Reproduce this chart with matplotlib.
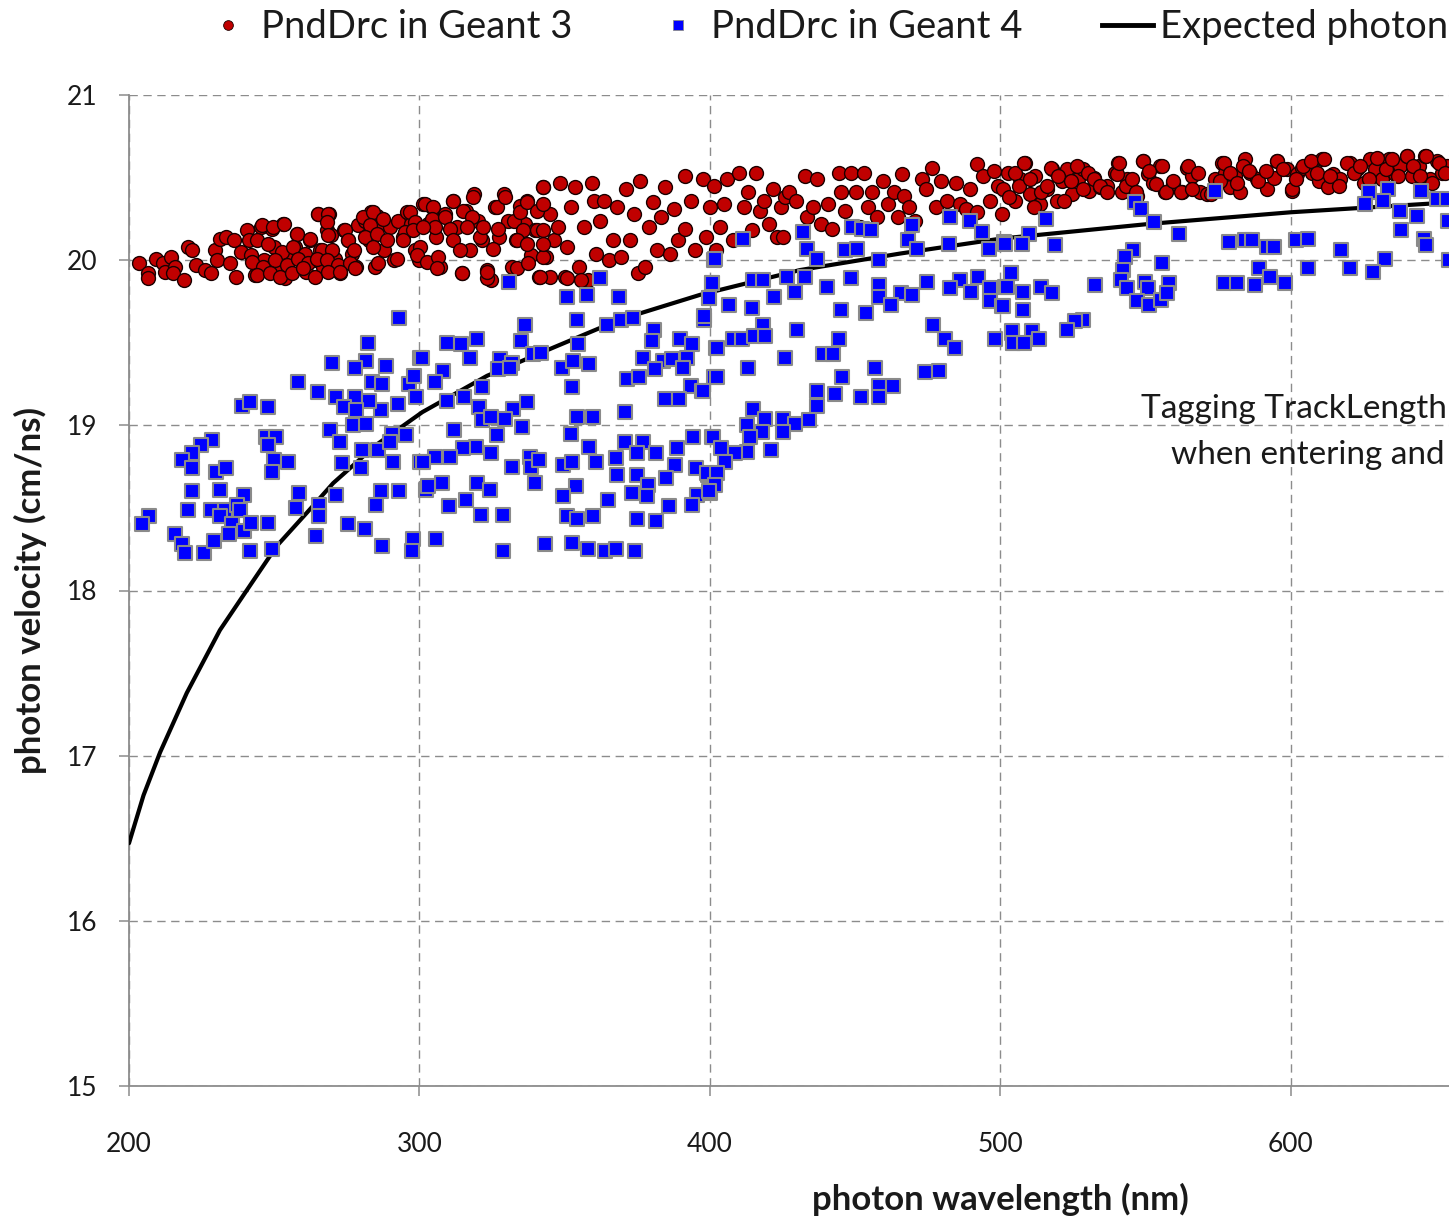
import numpy as np
import matplotlib
matplotlib.use("Agg")
import matplotlib.pyplot as plt
from matplotlib.lines import Line2D

# ---------------- data ----------------
# Expected photon velocity curve
curve_x = [200, 205, 210.7, 219.9, 231.3, 240.5, 250.9, 261.2, 270.3, 285, 301,
           323.3, 346, 369, 396.6, 431, 465.5, 500, 551.6, 600, 655]
curve_y = [16.47, 16.76, 17.02, 17.38, 17.76, 18.0, 18.27, 18.47, 18.65, 18.88, 19.08,
           19.30, 19.47, 19.64, 19.79, 19.94, 20.04, 20.13, 20.22, 20.29, 20.35]

# PndDrc in Geant 3 (red circles)
g3_x = [203.6, 206.5, 206.5, 209.4, 211.6, 212.3, 214.5, 215.9, 215.2, 218.8, 220.3, 221.7,
        223.2, 226.1, 228.3, 229.7, 230.4, 231.2, 233.3, 234.8, 236.2, 236.9, 238.4, 240.6,
        241.3, 242.0, 243.5, 245.6, 246.4, 247.8, 249.3, 250.0, 251.4, 252.9, 253.6, 255.8,
        257.2, 258.0, 259.4, 260.9, 262.3, 263.8, 265.2, 265.9, 266.7, 268.8, 268.1, 269.6,
        271.0, 272.5, 273.9, 275.3, 276.8, 278.2, 279.0, 281.1, 282.6, 283.3, 284.8, 285.5,
        286.9, 287.7, 289.8, 291.3, 292.7, 294.2, 295.6, 297.1, 298.5, 300.0,
        301.4, 302.9, 304.3, 305.8, 307.2, 308.7, 311.6, 313.0, 314.5, 315.9, 317.4, 318.8,
        320.3, 321.7, 323.2, 324.6, 326.1, 327.5, 329.0, 330.4, 331.9, 333.3, 334.8, 336.2,
        336.9, 338.4, 339.8, 341.3, 342.7, 343.5, 344.9, 346.3, 347.8, 348.5, 350.0, 350.7,
        352.1, 353.6, 355.0, 356.5, 357.9, 359.4, 360.1, 360.8, 362.3, 363.7, 365.2, 366.6,
        368.1, 369.5, 371.0, 372.4, 373.9, 375.3, 376.1, 377.5, 379.0, 380.4, 381.9, 383.3,
        384.7, 386.2, 387.6, 389.1, 391.3, 391.3, 393.4, 394.9, 397.8, 398.5, 400.0,
        401.4, 402.1, 403.6, 405.0, 405.8, 407.9, 410.1, 411.6, 413.0, 414.5, 415.9, 417.4,
        418.8, 420.2, 421.7, 423.1, 424.6, 426.0,
        323.2, 344.9, 350.7, 355.8,
        425.2, 427.4, 429.6, 432.6, 433.3, 435.5, 437.0, 438.4, 440.6, 442.1, 444.3, 445.0,
        446.5, 448.7, 450.2, 451.6, 453.1, 454.6, 456.0, 457.5, 459.7, 461.2, 463.3, 464.8,
        466.3, 467.0, 468.5, 470.7, 472.9, 474.3, 476.5, 478.0, 479.5, 481.7, 484.6, 486.1,
        488.3, 489.7, 491.9, 491.9, 494.1, 496.3, 497.8, 499.3,
        501.1, 502.8, 505.1, 506.8, 508.5, 510.3, 512.0, 513.7, 516.0, 517.7, 519.4, 521.2,
        522.9, 524.6, 526.9, 528.6, 530.4, 532.1, 534.4, 536.7, 539.5, 540.7, 541.8, 543.6,
        547.0, 549.3, 551.0, 552.7, 555.0, 556.8, 559.6, 562.5, 564.2, 565.9, 568.8, 571.1,
        574.0, 576.3, 577.4, 579.1, 580.9, 582.6, 584.3, 586.0, 588.3, 591.8, 594.1, 595.2,
        598.7, 600.4, 602.1, 603.8, 607.3, 609.6, 610.7, 613.0, 614.7, 617.0, 620.5, 622.8,
        625.1, 627.3, 629.1, 631.4, 633.7, 636.0, 637.7, 640.0, 641.7, 644.0, 646.3, 648.0,
        650.3, 652.0, 653.8,
        500.7, 502.9, 505.1, 506.6, 508.1, 510.3, 511.7, 513.9, 516.1, 517.6, 519.8, 522.0,
        524.2, 526.4, 528.6, 530.1, 532.3, 534.5, 536.6, 540.3, 541.0, 543.2, 545.4, 546.9,
        549.1, 551.3, 553.5, 555.7, 557.2, 559.4, 562.3, 564.5, 566.0, 568.2, 572.6, 575.5,
        577.0, 579.2, 581.4, 583.6, 585.8, 588.7, 591.6, 595.3, 597.5, 600.4, 601.9, 604.1,
        607.0, 609.2, 611.4, 613.6, 616.5, 619.5, 621.7, 623.9, 626.8, 629.7, 632.7, 634.9,
        637.1, 640.0, 642.2, 644.4, 646.6, 648.8, 651.0, 653.2,
        245.7, 249.7, 253.2, 257.7, 262.3, 244.0, 248.0, 252.6, 256.6, 260.6, 266.4, 269.8,
        242.2, 246.3, 250.3, 254.3, 258.3, 261.8, 264.6, 268.1, 272.1, 276.1, 244.0, 248.6,
        252.0, 256.0, 260.0, 264.1, 268.6, 272.7, 265.2, 268.6, 268.1, 268.6, 274.4, 275.5,
        277.3, 277.8, 280.7, 284.1, 283.0, 281.3, 285.3, 287.6, 284.1, 285.9, 288.7, 292.2,
        296.8, 298.5, 295.1, 294.5, 297.9, 300.2, 301.9, 304.8, 304.2, 305.4, 301.4, 299.1,
        302.5, 306.5, 306.0, 308.8, 311.7, 310.5, 311.7, 314.0, 315.1, 318.0, 318.6, 316.3,
        320.9, 322.0, 326.6, 325.5, 327.2, 329.5, 332.4, 334.7, 337.0, 340.4, 342.7, 342.7,
        335.8, 340.4, 333.5, 342.7, 337.0, 314.6, 323.2, 333.5, 337.5, 342.7, 341.5, 342.7]
g3_y = [19.98, 19.92, 19.89, 20.01, 19.98, 19.93, 20.02, 19.96, 19.92, 19.88, 20.08, 20.06,
        19.97, 19.94, 19.92, 20.06, 20.00, 20.13, 20.14, 19.98, 20.12, 19.90, 20.05, 20.18,
        20.12, 20.03, 19.91, 20.20, 20.00, 19.95, 20.19, 20.08, 19.96, 20.22, 19.89, 20.04,
        20.08, 20.16, 19.99, 19.93, 20.12, 20.00, 20.28, 20.06, 19.96, 20.28, 20.18, 20.15,
        20.01, 19.92, 20.18, 20.12, 20.04, 19.96, 20.21, 20.24, 20.12, 20.29, 19.96, 20.27,
        20.22, 20.06, 20.20, 20.00, 20.24, 20.14, 20.29, 20.22, 20.06, 20.00,
        20.34, 20.22, 20.32, 20.14, 19.96, 20.28, 20.36, 20.20, 19.92, 20.30, 20.06, 20.40,
        20.24, 20.12, 19.94, 19.88, 20.32, 20.14, 20.40, 20.24, 19.96, 20.12, 20.33, 20.22,
        20.36, 20.03, 20.18, 19.90, 20.44, 20.02, 20.28, 20.12, 20.20, 20.47, 19.90, 20.08,
        20.32, 20.44, 19.96, 20.20, 19.88, 20.47, 20.36, 20.04, 20.24, 20.36, 20.00, 20.12,
        20.32, 20.02, 20.43, 20.12, 20.28, 19.92, 20.48, 19.96, 20.20, 20.35, 20.06, 20.26,
        20.44, 20.04, 20.31, 20.12, 20.51, 20.19, 20.36, 20.06, 20.49, 20.14, 20.32,
        20.45, 20.06, 20.20, 20.34, 20.49, 20.12, 20.53, 20.32, 20.41, 20.18, 20.53, 20.30,
        20.36, 20.22, 20.43, 20.14, 20.32, 20.38,
        19.89, 19.90, 19.89, 19.88,
        20.14, 20.41, 20.36, 20.51, 20.26, 20.32, 20.49, 20.22, 20.34, 20.19, 20.53, 20.41,
        20.30, 20.53, 20.41, 20.20, 20.53, 20.32, 20.41, 20.26, 20.48, 20.34, 20.41, 20.26,
        20.52, 20.39, 20.32, 20.24, 20.49, 20.43, 20.56, 20.32, 20.48, 20.36, 20.47, 20.34,
        20.31, 20.43, 20.58, 20.29, 20.51, 20.36, 20.54, 20.45,
        20.43, 20.53, 20.36, 20.49, 20.59, 20.40, 20.51, 20.34, 20.43, 20.55, 20.36, 20.48,
        20.55, 20.40, 20.49, 20.55, 20.42, 20.50, 20.44, 20.45, 20.53, 20.59, 20.41, 20.49,
        20.39, 20.60, 20.52, 20.47, 20.57, 20.41, 20.47, 20.41, 20.56, 20.51, 20.41, 20.40,
        20.49, 20.59, 20.53, 20.44, 20.51, 20.41, 20.61, 20.53, 20.49, 20.43, 20.50, 20.60,
        20.55, 20.42, 20.52, 20.56, 20.53, 20.48, 20.61, 20.44, 20.52, 20.49, 20.59, 20.55,
        20.47, 20.61, 20.55, 20.49, 20.61, 20.52, 20.57, 20.63, 20.51, 20.57, 20.63, 20.49,
        20.60, 20.53, 20.57,
        20.28, 20.38, 20.53, 20.45, 20.59, 20.49, 20.32, 20.41, 20.45, 20.56, 20.51, 20.36,
        20.48, 20.57, 20.43, 20.53, 20.49, 20.45, 20.41, 20.52, 20.59, 20.45, 20.49, 20.41,
        20.60, 20.54, 20.46, 20.57, 20.41, 20.48, 20.41, 20.57, 20.43, 20.53, 20.40, 20.48,
        20.59, 20.53, 20.47, 20.57, 20.54, 20.48, 20.54, 20.60, 20.55, 20.43, 20.49, 20.57,
        20.60, 20.53, 20.61, 20.51, 20.45, 20.59, 20.53, 20.57, 20.49, 20.62, 20.55, 20.61,
        20.51, 20.63, 20.57, 20.51, 20.63, 20.47, 20.59, 20.53,
        20.21, 20.20, 20.22, 20.16, 20.13, 20.12, 20.10, 20.05, 20.08, 20.04, 20.06, 20.06,
        19.99, 19.96, 20.00, 19.97, 20.01, 19.98, 20.01, 20.00, 19.97, 19.98, 19.91, 19.92,
        19.90, 19.92, 19.95, 19.90, 19.93, 19.93, 20.28, 20.28, 20.23, 20.15, 20.18, 20.12,
        20.06, 19.95, 20.26, 20.29, 20.21, 20.14, 20.16, 20.25, 20.08, 19.98, 20.12, 20.01,
        20.29, 20.23, 20.17, 20.12, 20.18, 20.08, 20.34, 20.32, 20.25, 20.20, 20.20, 20.03,
        19.99, 20.02, 19.95, 20.26, 20.36, 20.19, 20.12, 20.06, 20.30, 20.26, 20.38, 20.20,
        20.14, 20.20, 20.32, 20.07, 20.19, 20.38, 20.24, 20.29, 20.35, 20.30, 20.44, 20.34,
        20.18, 20.18, 20.12, 20.18, 20.10, 19.92, 19.93, 19.95, 19.98, 20.02, 19.90, 20.10]

# PndDrc in Geant 4 (blue squares)
g4_x = [293.0, 282.3, 270.0, 281.6, 277.8, 288.5, 300.2, 258.2, 265.0, 283.7, 287.0, 296.4,
        298.0, 271.3, 277.8, 274.0, 286.8, 292.6, 298.8, 282.6, 278.2, 277.1, 281.6, 238.9,
        241.6, 247.9, 269.2, 272.7, 228.6, 224.8, 221.7, 218.3, 221.7, 230.0, 233.5, 247.2,
        250.6, 248.0, 249.9, 254.8, 249.2, 280.2, 285.7, 290.6, 295.4, 289.9, 273.3, 280.0,
        290.9, 300.2, 221.7, 231.3, 239.6, 220.3, 228.2, 233.1, 237.2, 238.2, 258.5, 257.5,
        265.4, 265.4, 271.3, 286.8, 293.0, 285.0, 206.9, 204.5, 215.8, 218.3, 219.3, 225.8,
        229.3, 231.3, 235.5, 234.4, 239.6, 242.0, 247.9, 241.7, 249.2, 264.4, 275.4, 281.3,
        287.1, 297.8, 297.5, 302.3,
        401.4, 330.9, 362.2, 350.8, 357.7, 368.7, 400.8, 399.7, 398.0, 336.4, 354.2, 364.6,
        369.4, 373.6, 380.8, 335.0, 309.5, 314.3, 319.8, 317.4, 354.6, 380.1, 389.7, 393.9,
        402.1, 300.9, 327.8, 332.0, 339.1, 341.9, 349.1, 352.9, 358.4, 377.0, 383.9, 387.0,
        392.2, 327.1, 331.2, 308.1, 305.4, 371.5, 375.6, 381.1, 390.8, 401.4, 321.6, 352.5,
        393.5, 397.3, 309.5, 315.3, 384.6, 389.4, 320.5, 337.0, 332.2, 321.6, 324.7, 329.5,
        335.3, 354.3, 359.8, 370.8, 311.9, 326.7, 352.2, 394.2, 400.8, 319.5, 315.0, 324.7,
        305.4, 310.6, 358.4, 370.8, 377.0, 374.9, 381.4, 388.7, 338.0, 301.2, 332.0, 338.4,
        341.2, 349.5, 352.5, 360.8, 367.7, 388.0, 395.3, 368.0, 374.9, 384.9, 399.4, 307.8,
        303.0, 319.8, 324.4, 339.8, 353.9, 378.7, 373.2, 395.6, 400.1, 310.2, 316.0, 349.5,
        364.9, 378.3, 385.9, 393.8, 321.2, 328.8, 350.8, 354.3, 359.8, 374.9, 381.4, 305.7,
        343.3, 328.8, 352.5, 358.0, 363.9, 367.7, 374.2,
        411.4, 432.1, 449.0, 452.4, 455.5, 469.6, 468.3, 482.8, 489.6, 493.8, 433.5, 436.9,
        446.5, 450.6, 471.3, 482.4, 496.1, 501.3, 401.8, 458.3, 400.8, 414.9, 418.3, 426.6,
        432.8, 440.4, 448.6, 458.3, 474.8, 486.2, 492.4, 503.7, 399.7, 422.1, 429.3, 458.3,
        465.9, 469.6, 482.7, 489.9, 496.5, 501.6, 398.0, 406.6, 414.5, 445.2, 453.8, 462.4,
        496.5, 500.6, 418.3, 430.0, 476.9, 402.5, 408.0, 411.1, 415.2, 419.0, 444.5, 481.0,
        484.4, 498.2, 504.0, 504.4, 425.9, 439.0, 442.5, 413.2, 402.5, 445.5, 456.9, 474.1,
        478.9, 397.7, 436.9, 443.1, 452.1, 458.3, 463.1, 458.3, 436.9, 414.9, 412.8, 419.0,
        425.2, 429.3, 434.1, 418.0, 425.2, 413.8, 401.1, 421.0, 412.8, 403.9, 408.7, 405.2,
        399.0, 402.5, 401.8, 399.7,
        574.0, 546.4, 548.5, 515.8, 509.9, 553.0, 561.6, 501.6, 507.5, 518.9, 627.0, 633.5,
        644.9, 625.6, 631.8, 650.4, 653.8, 637.6, 643.4, 654.2, 638.0, 645.9, 646.6, 654.5,
        578.8, 584.3, 586.7, 591.9, 594.3, 601.9, 606.0, 617.4, 632.5, 620.4, 628.4, 606.0,
        589.1, 592.9, 577.1, 581.6, 587.7, 598.0, 545.7, 543.0, 555.7, 542.3, 541.6, 549.9,
        558.1, 543.7, 550.9, 547.1, 551.2, 555.4, 557.4, 532.6, 503.7, 502.3, 507.8, 514.0,
        517.8, 500.9, 507.8, 528.5, 525.7, 523.0, 504.0, 510.9, 504.4, 508.2, 513.4]
g4_y = [19.65, 19.50, 19.38, 19.39, 19.35, 19.36, 19.41, 19.26, 19.20, 19.26, 19.25, 19.25,
        19.30, 19.17, 19.17, 19.11, 19.09, 19.13, 19.17, 19.15, 19.09, 19.00, 19.01, 19.12,
        19.14, 19.11, 18.97, 18.90, 18.91, 18.88, 18.83, 18.79, 18.74, 18.72, 18.74, 18.93,
        18.93, 18.88, 18.79, 18.78, 18.72, 18.85, 18.85, 18.95, 18.94, 18.90, 18.77, 18.74,
        18.78, 18.78, 18.60, 18.61, 18.58, 18.49, 18.49, 18.49, 18.52, 18.49, 18.59, 18.50,
        18.52, 18.45, 18.58, 18.60, 18.60, 18.52, 18.45, 18.40, 18.34, 18.28, 18.23, 18.23,
        18.30, 18.45, 18.40, 18.34, 18.36, 18.41, 18.41, 18.24, 18.25, 18.33, 18.40, 18.37,
        18.27, 18.31, 18.24, 18.61,
        20.00, 19.87, 19.89, 19.78, 19.79, 19.78, 19.86, 19.77, 19.64, 19.61, 19.64, 19.61,
        19.64, 19.65, 19.58, 19.51, 19.50, 19.49, 19.52, 19.41, 19.49, 19.51, 19.52, 19.49,
        19.47, 19.41, 19.40, 19.38, 19.43, 19.44, 19.35, 19.39, 19.37, 19.41, 19.39, 19.40,
        19.41, 19.34, 19.35, 19.33, 19.26, 19.28, 19.29, 19.34, 19.35, 19.29, 19.23, 19.23,
        19.24, 19.21, 19.15, 19.17, 19.16, 19.16, 19.11, 19.14, 19.10, 19.03, 19.05, 19.04,
        18.99, 19.05, 19.05, 19.08, 18.97, 18.94, 18.95, 18.93, 18.93, 18.87, 18.86, 18.83,
        18.81, 18.81, 18.87, 18.90, 18.90, 18.83, 18.83, 18.86, 18.81, 18.78, 18.75, 18.75,
        18.79, 18.76, 18.78, 18.78, 18.80, 18.76, 18.74, 18.70, 18.70, 18.68, 18.70, 18.65,
        18.63, 18.65, 18.61, 18.65, 18.63, 18.64, 18.59, 18.58, 18.59, 18.51, 18.55, 18.57,
        18.55, 18.57, 18.51, 18.52, 18.46, 18.46, 18.45, 18.43, 18.45, 18.43, 18.42, 18.31,
        18.28, 18.24, 18.29, 18.25, 18.24, 18.25, 18.24,
        20.13, 20.17, 20.20, 20.19, 20.18, 20.21, 20.12, 20.26, 20.24, 20.17, 20.07, 20.01,
        20.06, 20.07, 20.07, 20.10, 20.07, 20.11, 20.01, 20.00, 19.86, 19.88, 19.88, 19.90,
        19.90, 19.84, 19.89, 19.85, 19.87, 19.88, 19.90, 19.92, 19.77, 19.78, 19.81, 19.78,
        19.80, 19.79, 19.83, 19.81, 19.83, 19.84, 19.66, 19.73, 19.71, 19.70, 19.68, 19.73,
        19.75, 19.72, 19.61, 19.58, 19.61, 19.47, 19.52, 19.52, 19.54, 19.54, 19.52, 19.52,
        19.47, 19.52, 19.56, 19.50, 19.41, 19.43, 19.43, 19.35, 19.29, 19.29, 19.35, 19.32,
        19.33, 19.21, 19.21, 19.19, 19.17, 19.24, 19.24, 19.17, 19.12, 19.10, 19.00, 19.04,
        19.04, 19.01, 19.03, 18.96, 18.96, 18.93, 18.93, 18.85, 18.84, 18.86, 18.83, 18.78,
        18.71, 18.71, 18.64, 18.60,
        20.42, 20.35, 20.31, 20.25, 20.16, 20.23, 20.16, 20.10, 20.10, 20.09, 20.41, 20.43,
        20.42, 20.34, 20.36, 20.37, 20.37, 20.30, 20.27, 20.24, 20.18, 20.13, 20.09, 20.00,
        20.11, 20.12, 20.12, 20.08, 20.08, 20.12, 20.13, 20.06, 20.01, 19.95, 19.93, 19.95,
        19.95, 19.90, 19.86, 19.86, 19.85, 19.86, 20.06, 20.02, 19.98, 19.94, 19.88, 19.87,
        19.86, 19.83, 19.83, 19.75, 19.73, 19.76, 19.80, 19.85, 19.92, 19.84, 19.81, 19.84,
        19.80, 19.72, 19.70, 19.64, 19.63, 19.58, 19.57, 19.57, 19.50, 19.50, 19.52]

x_ticks = [200, 300, 400, 500, 600]
y_ticks = [15, 16, 17, 18, 19, 20, 21]

legend_labels = ["PndDrc in Geant 3", "PndDrc in Geant 4", "Expected photon"]
annot_lines = ["Tagging TrackLength", "when entering and"]
x_label = "photon wavelength (nm)"
y_label = "photon velocity (cm/ns)"

# ---------------- figure ----------------
FONT = ["Lato", "DejaVu Sans"]
plt.rcParams["font.family"] = FONT

W, H = 1449, 1219
fig = plt.figure(figsize=(W / 100, H / 100), dpi=100)
ax = fig.add_axes([129 / W, 1 - 1086 / H, (W - 129) / W, (1086 - 95) / H])

red_fill = "#C00000"
blue_fill = "#0000FF"

ax.plot(curve_x, curve_y, color="black", lw=3.0, zorder=3, solid_capstyle="round")
ax.scatter(g3_x, g3_y, s=100, marker="o", facecolor=red_fill, edgecolor="#1a0000",
           linewidths=1.0, zorder=4)
ax.scatter(g4_x, g4_y, s=95, marker="s", facecolor=blue_fill, edgecolor="#8a8a8a",
           linewidths=1.5, zorder=5)

ax.set_xlim(200, 654.5)
ax.set_ylim(15, 21)
ax.set_xticks(x_ticks)
ax.set_yticks(y_ticks)
ax.grid(True, color="#8c8c8c", lw=1.0, linestyle=(0, (6, 4)), zorder=0)
ax.set_axisbelow(True)
for s in ["top", "right"]:
    ax.spines[s].set_visible(False)
for s in ["left", "bottom"]:
    ax.spines[s].set_color("#8c8c8c")
    ax.spines[s].set_linewidth(1.3)
ax.tick_params(axis="both", direction="out", length=7, width=1.1, color="#8c8c8c",
               labelsize=19, labelcolor="#1a1a1a")
ax.tick_params(axis="y", pad=16)
ax.tick_params(axis="x", pad=26)

fig.text(1000 / W, 1 - 1199 / H, x_label, ha="center", va="center",
         fontsize=25, fontweight="bold", color="#1a1a1a")
fig.text(30 / W, 1 - 590 / H, y_label, ha="center", va="center", rotation=90,
         fontsize=25, fontweight="bold", color="#1a1a1a")

fig.text(1447 / W, 1 - 409 / H, annot_lines[0], ha="right", va="center",
         fontsize=24, color="#1a1a1a")
fig.text(1445 / W, 1 - 455 / H, annot_lines[1], ha="right", va="center",
         fontsize=24, color="#1a1a1a")

handles = [
    Line2D([], [], marker="o", ls="none", markersize=7, markerfacecolor=red_fill,
           markeredgecolor="#1a0000", markeredgewidth=0.6),
    Line2D([], [], marker="s", ls="none", markersize=7, markerfacecolor=blue_fill,
           markeredgecolor="#8a8a8a", markeredgewidth=0.6),
    Line2D([], [], color="black", lw=3.5),
]
fig.legend(handles, legend_labels, ncol=3, loc="center left",
           bbox_to_anchor=(203 / W, 1 - 27 / H), frameon=False, fontsize=27.5,
           handlelength=1.32, handletextpad=0.2, columnspacing=2.1, borderpad=0,
           borderaxespad=0, labelcolor="#1a1a1a")

fig.savefig("out.png", dpi=100)
